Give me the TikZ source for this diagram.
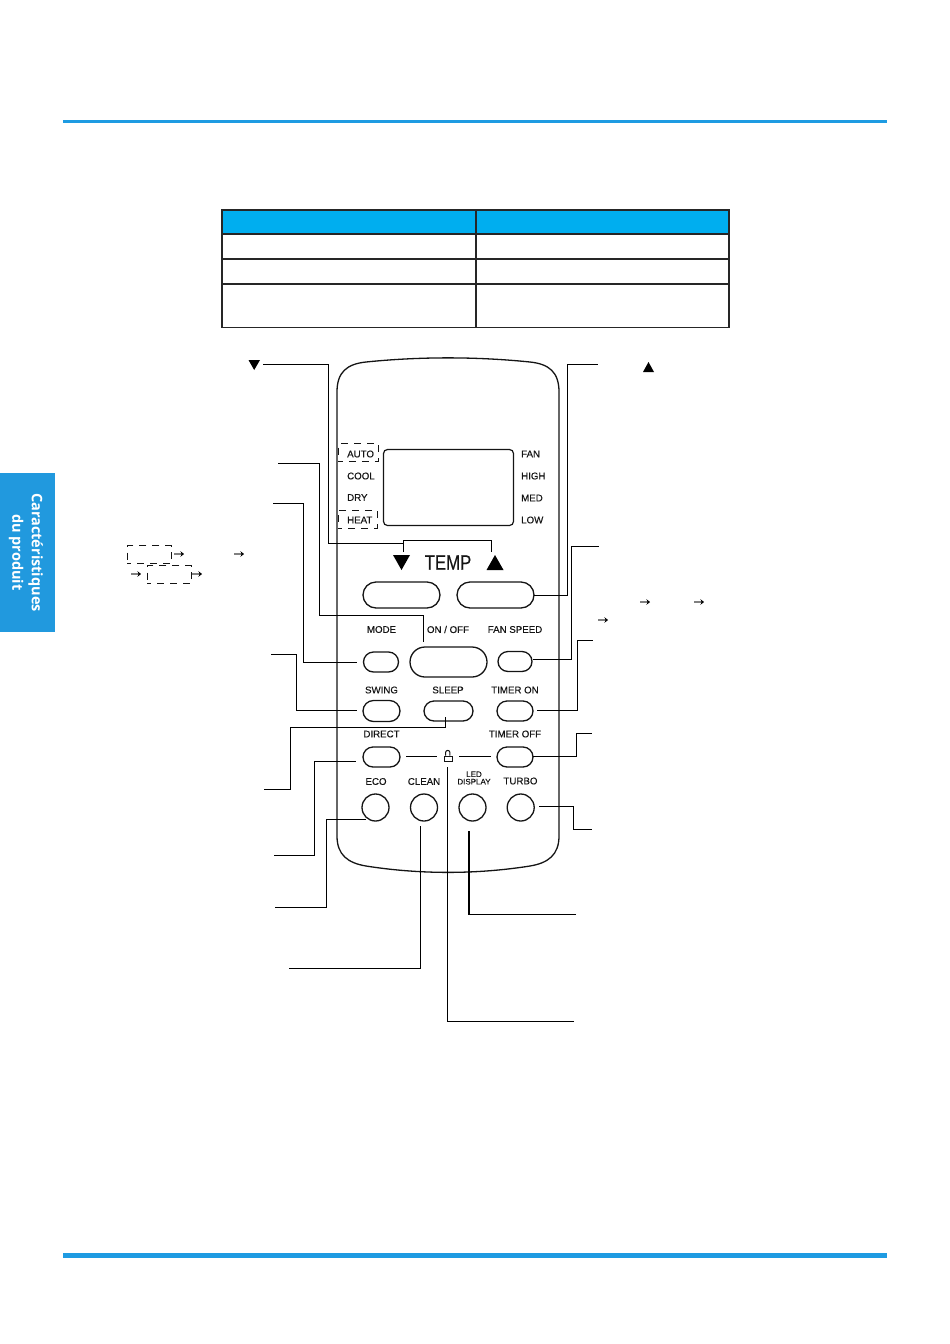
\documentclass[tikz,border=0pt]{standalone}
\usepackage{fontspec}
\setmainfont{Liberation Sans}
\newfontfamily\tabfont{Open Sans}
\newfontfamily\lblfont[FakeBold=0.3]{Liberation Sans}
\usetikzlibrary{shapes.misc,arrows.meta}
\definecolor{rulebl}{HTML}{1E9BE2}
\definecolor{tabbl}{HTML}{2199DE}
\definecolor{headbl}{HTML}{00AEEF}
\definecolor{inkc}{HTML}{141414}
\tikzset{
 x=1pt,y=-1pt,
 btn/.style={draw=inkc,line width=1.3pt,rounded rectangle,inner sep=0pt,fill=white},
 rbtn/.style={draw=inkc,line width=1.3pt,circle,inner sep=0pt,minimum size=27pt,fill=white},
 conn/.style={draw=black,line width=1pt},
 lab/.style={font=\lblfont\fontsize{9.7}{10}\selectfont,text=inkc,inner sep=0pt},
 modelab/.style={lab,anchor=west},
 dbox/.style={draw=inkc,line width=1pt,dash pattern=on 7pt off 6pt,dash phase=3pt,inner sep=0pt},
 garrow/.style={draw=gray,line width=1.2pt,-{Stealth[length=3.5pt,width=5.5pt,black]}},
 tbl/.style={draw=black!85,line width=1.6pt},
}
\begin{document}
\begin{tikzpicture}
\useasboundingbox (0,0) rectangle (950,1344);
% page furniture
\fill[rulebl] (63,120) rectangle (887,123);
\fill[rulebl] (63,1253) rectangle (887,1258);
\fill[tabbl] (0,473) rectangle (55,632);
\node[rotate=-90,text=white,inner sep=0pt,align=center,font=\tabfont\fontsize{14.5}{19.5}\selectfont\bfseries] (tabtext) at (26,552.5) {Caractéristiques\\du produit};
% table
\fill[headbl] (222,210) rectangle (729,234);
\draw[tbl] (222,210) rectangle (729,327.5);
\draw[tbl] (222,234) -- (729,234) (222,259) -- (729,259) (222,284) -- (729,284) (476,210) -- (476,327.5);
% body
\draw[draw=inkc,line width=1.3pt] (337,392) .. controls (337,372) and (347,364) .. (366,362)
 .. controls (420,356.5) and (476,356.5) .. (530,362)
 .. controls (549,364) and (559,372) .. (559,392)
 -- (559,836) .. controls (559,855) and (548,863) .. (530,866)
 .. controls (476,874.5) and (420,874.5) .. (366,866)
 .. controls (348,863) and (337,855) .. (337,836) -- cycle;
% display
\node[draw=inkc,line width=1.2pt,rounded corners=4pt,minimum width=130pt,minimum height=76pt,inner sep=0pt] (lcd) at (448.5,487.5) {};
\node[dbox,minimum width=39.5pt,minimum height=18pt] (autobox) at (358.7,452.5) {};
\node[dbox,minimum width=39pt,minimum height=18pt] (heatbox) at (357.7,519) {};
\node[modelab] (auto) at (347,454) {AUTO};
\node[modelab] (cool) at (347,476) {COOL};
\node[modelab] (dry) at (347,497.5) {DRY};
\node[modelab] (heat) at (347,520) {HEAT};
\node[modelab] (fan) at (521,454) {FAN};
\node[modelab] (high) at (521,476) {HIGH};
\node[modelab] (med) at (521,498) {MED};
\node[modelab] (low) at (521,520) {LOW};
% temp
\node[inner sep=0pt,text=inkc,font=\lblfont\fontsize{21}{22}\selectfont] (temp) at (448,562.5) {\scalebox{.8}[1]{TEMP}};
\fill[black] (393,555) -- (410,555) -- (401.5,570) -- cycle;
\fill[black] (486.5,570) -- (503.5,570) -- (495,555) -- cycle;
\node[btn,minimum width=77pt,minimum height=26pt] (down) at (401.5,595) {};
\node[btn,minimum width=77pt,minimum height=26pt] (up) at (495.5,595) {};
% buttons
\node[btn,minimum width=35pt,minimum height=20pt] (mode) at (381,662) {};
\node[btn,minimum width=77pt,minimum height=30pt] (onoff) at (448.5,662) {};
\node[btn,minimum width=34pt,minimum height=20pt] (fanspeed) at (515,661.5) {};
\node[btn,minimum width=37pt,minimum height=21pt] (swing) at (381.5,711) {};
\node[btn,minimum width=49pt,minimum height=20pt] (sleep) at (448.5,711) {};
\node[btn,minimum width=36pt,minimum height=20pt] (timeron) at (515,711) {};
\node[btn,minimum width=37pt,minimum height=20pt] (direct) at (381.5,757) {};
\node[btn,minimum width=36pt,minimum height=20pt] (timeroff) at (515,757) {};
\node[rbtn] (eco) at (375.5,807.5) {};
\node[rbtn] (clean) at (424,807.5) {};
\node[rbtn] (led) at (472.5,807.5) {};
\node[rbtn] (turbo) at (520.7,807.5) {};
% button labels
\node[lab] (lmode) at (381.5,629.5) {MODE};
\node[lab] (lonoff) at (448,629.5) {ON / OFF};
\node[lab] (lfan) at (515,629.5) {FAN SPEED};
\node[lab] (lswing) at (381.5,690) {SWING};
\node[lab] (lsleep) at (448,690) {SLEEP};
\node[lab] (ltimeron) at (515,690) {TIMER ON};
\node[lab] (ldirect) at (381.5,734) {DIRECT};
\node[lab] (ltimeroff) at (515,734) {TIMER OFF};
\node[lab] (leco) at (376,781.5) {ECO};
\node[lab] (lclean) at (424,781.5) {CLEAN};
\node[lab,align=center,font=\lblfont\fontsize{8}{7.5}\selectfont] (lled) at (474,778) {LED\\DISPLAY};
\node[lab] (lturbo) at (520.5,781) {TURBO};
% lock
\node[draw=inkc,line width=1pt,minimum width=7.5pt,minimum height=5.5pt,inner sep=0pt] (lock) at (448.3,758.8) {};
\draw[inkc,line width=1pt] (lock.north west) ++(1.5,0) -- ++(0,-3) arc[start angle=180,end angle=0,radius=2.2pt] -- ++(0,3);
\coordinate (lkL) at (437,756.5); \coordinate (dirR) at (406,756.5);
\coordinate (lkR) at (459,756.5); \coordinate (offL) at (491,756.5);
\draw[conn] (dirR) -- (lkL);
\draw[conn] (lkR) -- (offL);
% free ends
\coordinate (fDown) at (263,364.5);
\coordinate (fUp) at (598,364.5);
\coordinate (fOn) at (278,463.5);
\coordinate (fMode) at (273,503.5);
\coordinate (fSwing) at (271,654.5);
\coordinate (fSleep) at (264,789.5);
\coordinate (fDirect) at (274,855.5);
\coordinate (fEco) at (275,907.5);
\coordinate (fClean) at (289,968.5);
\coordinate (fLock) at (574,1021.5);
\coordinate (fLed) at (576,914.5);
\coordinate (fTurbo) at (592,829.5);
\coordinate (fOff) at (592,733.5);
\coordinate (fTon) at (593,640.5);
\coordinate (fFan) at (599,546.5);
\coordinate (bL) at (403.5,552); \coordinate (bR) at (491.5,552); \coordinate (bM) at (403.5,543.5);
\coordinate (tOn) at (423.5,642);
\coordinate (tMode) at (357,662.5);
\coordinate (tSwing) at (357,710.5);
\coordinate (tSleep) at (445.5,717);
\coordinate (tDirect) at (356,761.5);
\coordinate (tEco) at (366,819.5);
\coordinate (tClean) at (420.5,826);
\coordinate (tLock) at (447.5,767);
\coordinate (tLed) at (469,831);
\coordinate (tTurbo) at (539,806.5);
\coordinate (tTon) at (537,710.5);
\coordinate (tFan) at (533,659.5);
\coordinate (tUp) at (534,595.5);
\coordinate (tOff) at (533,756.5);
% connectors
\draw[conn] (bL) -- (403.5,540.5) -- (491.5,540.5) -- (bR);
\draw[conn] (fDown) -- (328.5,364.5) -- (328.5,543.5) -- (bM);
\draw[conn] (tUp) -- (567.5,595.5) -- (567.5,364.5) -- (fUp);
\draw[conn] (fOn) -- (319.5,463.5) -- (319.5,615.5) -- (423.5,615.5) -- (tOn);
\draw[conn] (fMode) -- (303.5,503.5) -- (303.5,662.5) -- (tMode);
\draw[conn] (fSwing) -- (296.5,654.5) -- (296.5,710.5) -- (tSwing);
\draw[conn] (fSleep) -- (290.5,789.5) -- (290.5,727.5) -- (445.5,727.5) -- (tSleep);
\draw[conn] (fDirect) -- (314.5,855.5) -- (314.5,761.5) -- (tDirect);
\draw[conn] (fEco) -- (326.5,907.5) -- (326.5,819.5) -- (tEco);
\draw[conn] (fClean) -- (420.5,968.5) -- (tClean);
\draw[conn] (fLock) -- (447.5,1021.5) -- (tLock);
\draw[conn,line width=1.5pt] (fLed) -- (469,914.5) -- (tLed);
\draw[conn] (tTurbo) -- (573.5,806.5) -- (573.5,829.5) -- (fTurbo);
\draw[conn] (tOff) -- (576.5,756.5) -- (576.5,733.5) -- (fOff);
\draw[conn] (tTon) -- (577.5,710.5) -- (577.5,640.5) -- (fTon);
\draw[conn] (tFan) -- (571.5,659.5) -- (571.5,546.5) -- (fFan);
% small triangles
\fill[black] (248.5,360) -- (260,360) -- (254.2,370) -- cycle;
\fill[black] (643,372) -- (654,372) -- (648.5,362) -- cycle;
% dashed boxes and text-line arrows
\node[dbox,minimum width=44.5pt,minimum height=18pt] (boxa) at (149.5,554.5) {};
\node[dbox,minimum width=44.5pt,minimum height=18pt] (boxb) at (169.5,574.5) {};
\foreach \xa/\ya in {174/554,234/554,131/574,192/574,640/602,694/602,598/620}{
  \coordinate (ga) at (\xa,\ya);
  \draw[garrow] (ga) -- ++(10,0);
}
\end{tikzpicture}
\end{document}
